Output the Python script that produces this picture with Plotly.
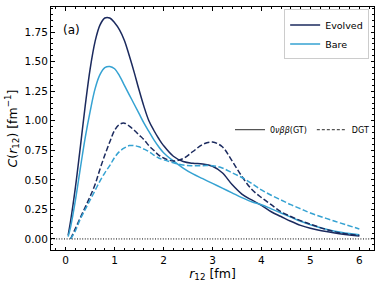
import plotly.graph_objects as go

r = [0.05, 0.1, 0.2, 0.3, 0.4, 0.5, 0.6, 0.7, 0.8, 0.9, 1.0, 1.1, 1.2, 1.3, 1.4, 1.5,
     1.6, 1.7, 1.8, 1.9, 2.0, 2.2, 2.4, 2.6, 2.8, 3.0, 3.2, 3.4, 3.6, 3.8, 4.0, 4.2,
     4.4, 4.6, 4.8, 5.0, 5.5, 6.0]

evolved_gt = [0.03, 0.15, 0.44, 0.78, 1.13, 1.44, 1.67, 1.81, 1.87, 1.87, 1.83, 1.77, 1.68,
              1.55, 1.41, 1.26, 1.12, 1.00, 0.92, 0.85, 0.79, 0.70, 0.655, 0.64, 0.635,
              0.615, 0.56, 0.46, 0.38, 0.33, 0.285, 0.23, 0.19, 0.15, 0.115, 0.09, 0.05, 0.025]

bare_gt = [0.02, 0.1, 0.33, 0.6, 0.86, 1.08, 1.27, 1.39, 1.45, 1.46, 1.44, 1.38, 1.30,
           1.22, 1.14, 1.06, 0.98, 0.91, 0.84, 0.78, 0.73, 0.66, 0.6, 0.55, 0.51,
           0.47, 0.43, 0.39, 0.35, 0.315, 0.29, 0.255, 0.22, 0.185, 0.15, 0.12, 0.065, 0.035]

evolved_dgt = [None, 0.0, 0.09, 0.18, 0.27, 0.36, 0.46, 0.59, 0.71, 0.82, 0.92, 0.97, 0.98,
               0.955, 0.92, 0.88, 0.84, 0.79, 0.75, 0.71, 0.685, 0.66, 0.68, 0.74, 0.8,
               0.82, 0.78, 0.66, 0.53, 0.42, 0.35, 0.29, 0.23, 0.19, 0.155, 0.125, 0.06, 0.03]

bare_dgt = [None, 0.0, 0.07, 0.17, 0.25, 0.33, 0.41, 0.49, 0.56, 0.62, 0.69, 0.74, 0.77,
            0.79, 0.79, 0.78, 0.76, 0.74, 0.71, 0.685, 0.67, 0.645, 0.625, 0.62, 0.62,
            0.62, 0.6, 0.56, 0.52, 0.47, 0.415, 0.37, 0.33, 0.29, 0.255, 0.22, 0.15, 0.085]

DARK = "#1b2a5e"
LIGHT = "#35a2d2"
DASH = "5.5px,2.4px"

fig = go.Figure()
fig.add_trace(go.Scatter(x=r, y=evolved_gt, mode="lines", name="Evolved",
                         line=dict(color=DARK, width=1.5, shape="spline"), legend="legend"))
fig.add_trace(go.Scatter(x=r, y=bare_gt, mode="lines", name="Bare",
                         line=dict(color=LIGHT, width=1.5, shape="spline"), legend="legend"))
fig.add_trace(go.Scatter(x=r, y=evolved_dgt, mode="lines", showlegend=False,
                         line=dict(color=DARK, width=1.5, shape="spline", dash=DASH)))
fig.add_trace(go.Scatter(x=r, y=bare_dgt, mode="lines", showlegend=False,
                         line=dict(color=LIGHT, width=1.5, shape="spline", dash=DASH)))
# style legend entries
fig.add_trace(go.Scatter(x=[None], y=[None], mode="lines", name="0<i>νββ</i>(GT)",
                         line=dict(color="#555555", width=1.2), legend="legend2"))
fig.add_trace(go.Scatter(x=[None], y=[None], mode="lines", name="DGT",
                         line=dict(color="#555555", width=1.2, dash="3px,2px"), legend="legend2"))

fig.add_shape(type="line", xref="paper", x0=0, x1=1, yref="y", y0=0, y1=0,
              line=dict(color="black", width=1, dash="1px,1.6px"))

fig.add_annotation(text="(a)", xref="paper", yref="paper", x=0.03, y=0.905,
                   xanchor="left", yanchor="middle", showarrow=False,
                   font=dict(size=12, color="black"))

axis_common = dict(showline=True, linecolor="black", linewidth=1, mirror="allticks",
                   ticks="inside", ticklen=3.5, tickwidth=0.8, tickcolor="black",
                   showgrid=False, zeroline=False, automargin=False,
                   tickfont=dict(size=10.5, color="black"))

fig.update_xaxes(range=[-0.3, 6.3], dtick=1, tick0=0,
                 minor=dict(ticks="inside", dtick=0.2, ticklen=2, tickcolor="black", showgrid=False),
                 title=dict(text="<i>r</i><sub>12</sub> [fm]", font=dict(size=12.5, color="black"), standoff=4),
                 **axis_common)
fig.update_yaxes(range=[-0.0935, 1.963], dtick=0.25, tick0=0, tickformat=".2f",
                 minor=dict(ticks="inside", dtick=0.05, ticklen=2, tickcolor="black", showgrid=False),
                 title=dict(text="<i>C</i>(<i>r</i><sub>12</sub>) [fm<sup>−1</sup>]",
                            font=dict(size=12.5, color="black"), standoff=4),
                 **axis_common)

fig.update_layout(
    width=382, height=286,
    margin=dict(l=51, r=8, t=7, b=36),
    paper_bgcolor="white", plot_bgcolor="white",
    font=dict(family="DejaVu Sans", color="black"),
    legend=dict(x=0.985, y=0.99, xanchor="right", yanchor="top",
                bgcolor="white", bordercolor="#cccccc", borderwidth=1,
                font=dict(size=9.5), itemwidth=30, tracegroupgap=0,
                traceorder="normal"),
    legend2=dict(x=1.0, y=0.495, xanchor="right", yanchor="middle",
                 orientation="h", bgcolor="rgba(0,0,0,0)", borderwidth=0,
                 font=dict(size=8), itemwidth=30),
    showlegend=True,
)

fig.write_html("out.html", config={"displayModeBar": False},
               post_script="document.body.style.margin='0px';")
